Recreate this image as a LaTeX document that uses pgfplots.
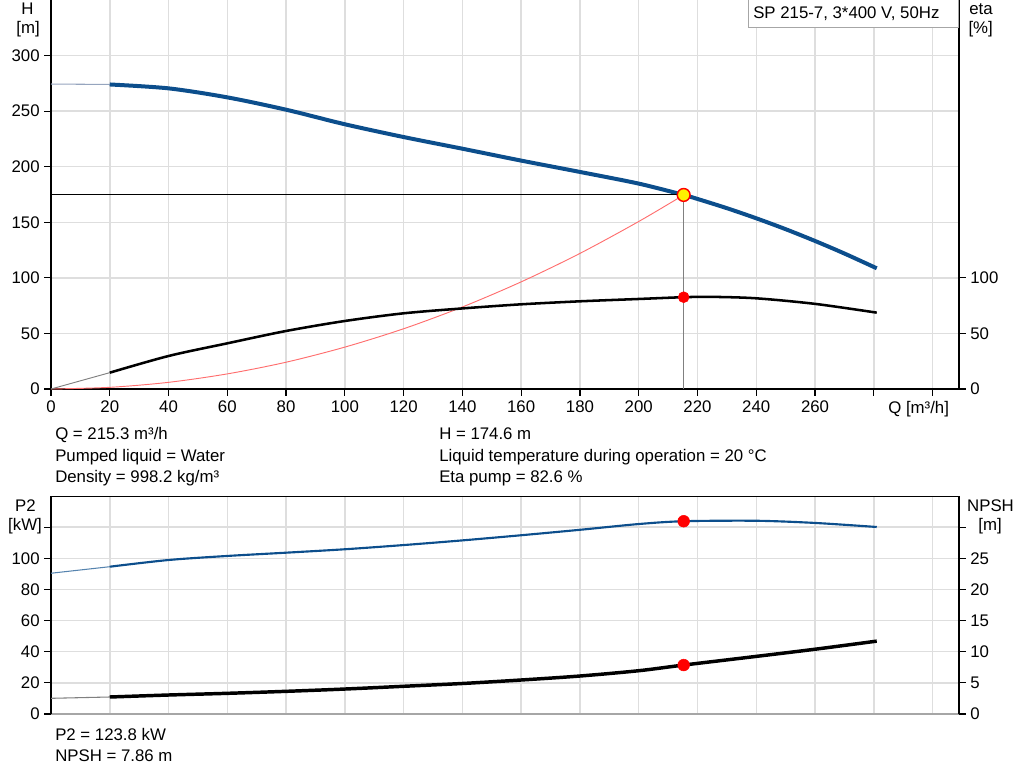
\documentclass[border=0pt]{standalone}
\usepackage{pgfplots}
\pgfplotsset{compat=1.18}
\usepackage{fontspec}
\setmainfont{Liberation Sans}
\definecolor{gblue}{RGB}{12,78,140}
\definecolor{gthin}{RGB}{150,165,190}
\definecolor{gridgray}{RGB}{222,222,222}
\definecolor{sysred}{RGB}{255,110,110}
\begin{document}
\begin{tikzpicture}
\useasboundingbox (0,0) rectangle (768pt,-585.75pt);
\pgfplotsset{
  every axis/.append style={
    scale only axis,
    font=\fontsize{12.6}{14}\selectfont,
    /pgf/number format/assume math mode=true,
    tick align=outside,
    major tick length=5pt,
    xmin=0, xmax=309,
    axis line style={black, line width=0.9pt},
    tick style={black, line width=0.9pt},
    major grid style={gridgray, line width=1.1pt},
  },
}
% ---------------- top panel: H ----------------
\begin{axis}[
  at={(38.25pt,-291.75pt)}, anchor=south west,
  width=681pt, height=291.75pt,
  ymin=0, ymax=350,
  axis x line*=bottom, axis y line*=left,
  xtick={0,20,40,60,80,100,120,140,160,180,200,220,240,260,280,300},
  xticklabels={0,20,40,60,80,100,120,140,160,180,200,220,240,260,{},{}},
  ytick={0,50,100,150,200,250,300},
  grid=major,
]
\addplot[gthin, line width=0.8pt] coordinates {(0,274.4)(20,274)};
\addplot[gblue, line width=3pt, smooth] coordinates {
  (20,274)(40,270.5)(60,262.4)(80,251.3)(100,238.2)(120,226.7)(140,216.2)
  (160,205.5)(180,195.3)(200,184.8)(215.3,174.6)(220,171.0)(230,162.7)(240,153.6)
  (250,143.8)(260,133.2)(270,121.9)(281,108.6)};
\addplot[sysred, line width=0.7pt, smooth] coordinates {
  (0,0)(20,1.5)(40,6)(60,13.6)(80,24.1)(100,37.7)(120,54.2)(140,73.8)
  (160,96.4)(180,122)(200,150.7)(215.3,174.6)};
\addplot[black, line width=0.75pt] coordinates {(0,174.6)(215.3,174.6)};
\addplot[gray, line width=0.75pt] coordinates {(215.3,174.6)(215.3,0)};
\addplot[only marks, mark=*, mark size=4.8pt,
  mark options={fill=yellow, draw=red, line width=1.1pt}] coordinates {(215.3,174.6)};
\end{axis}
% ---------------- top panel: eta ----------------
\begin{axis}[
  at={(38.25pt,-291.75pt)}, anchor=south west,
  width=681pt, height=291.75pt,
  ymin=0, ymax=350,
  axis x line=none, axis y line*=right,
  y axis line style={line width=1.8pt},
  ytick={0,50,100},
]
\addplot[gray, line width=0.7pt] coordinates {(0,0)(20,14.7)};
\addplot[black, line width=1.9pt, smooth] coordinates {
  (20,14.7)(40,29.7)(60,41.1)(80,52.2)(100,61.2)(120,68.1)(140,72.5)
  (160,76.2)(180,78.9)(200,81.0)(215.3,82.6)(225,82.9)(240,81.6)(260,76.6)(281,68.7)};
\addplot[only marks, mark=*, mark size=4.1pt, red] coordinates {(215.3,82.6)};
\end{axis}
% ---------------- bottom panel: P2 ----------------
\begin{axis}[
  at={(38.25pt,-535.5pt)}, anchor=south west,
  width=681pt, height=163.5pt,
  ymin=0, ymax=140,
  axis x line*=bottom, axis y line*=left,
  x axis line style={gray!70},
  xtick={0,20,40,60,80,100,120,140,160,180,200,220,240,260,280,300},
  xticklabels={}, xtick style={draw=none},
  ytick={0,20,40,60,80,100,120},
  yticklabels={0,20,40,60,80,100,{}},
  grid=major,
]
\draw[black, line width=0.9pt] (rel axis cs:0,1) -- (rel axis cs:1,1);
\addplot[gblue!70!white, line width=0.8pt] coordinates {(0,90.4)(20,94.6)};
\addplot[gblue, line width=1.6pt, smooth] coordinates {
  (20,94.6)(40,98.9)(60,101.5)(80,103.6)(100,105.8)(120,108.5)(140,111.5)
  (160,114.8)(180,118.3)(200,122.0)(215.3,123.8)(240,124.1)(260,122.7)(281,120.1)};
\addplot[only marks, mark=*, mark size=4.4pt, red] coordinates {(215.3,123.8)};
\end{axis}
% ---------------- bottom panel: NPSH ----------------
\begin{axis}[
  at={(38.25pt,-535.5pt)}, anchor=south west,
  width=681pt, height=163.5pt,
  ymin=0, ymax=35,
  axis x line=none, axis y line*=right,
  y axis line style={line width=1.8pt},
  ytick={0,5,10,15,20,25,30},
  yticklabels={0,5,10,15,20,25,{}},
]
\addplot[gray, line width=0.8pt] coordinates {(0,2.52)(20,2.73)};
\addplot[black, line width=2.6pt, smooth] coordinates {
  (20,2.73)(40,3.05)(60,3.32)(80,3.64)(100,4.01)(120,4.45)(140,4.9)
  (160,5.46)(180,6.1)(200,6.95)(215.3,7.86)(240,9.25)(260,10.4)(281,11.7)};
\addplot[only marks, mark=*, mark size=4.4pt, red] coordinates {(215.3,7.86)};
\end{axis}
% ---------------- texts ----------------
\begin{scope}[every node/.style={font=\fontsize{12.6}{14}\selectfont, inner sep=0pt}]
\node[anchor=base] at (20.6pt,-11.25pt) {H};
\node[anchor=base] at (21pt,-25.5pt) {[m]};
\node[anchor=base] at (735.75pt,-11.25pt) {eta};
\node[anchor=base] at (735.5pt,-25.5pt) {[\%]};
\draw[gray!70, line width=0.75pt, fill=white] (561pt,0.75pt) rectangle (718.5pt,-21pt);
\node[anchor=base west] at (564.75pt,-14.25pt) {SP 215-7, 3*400 V, 50Hz};
\node[anchor=base west] at (666pt,-309.75pt) {Q [m³/h]};
\node[anchor=base west] at (41.25pt,-329.25pt) {Q = 215.3 m³/h};
\node[anchor=base west] at (41.25pt,-345.75pt) {Pumped liquid = Water};
\node[anchor=base west] at (41.25pt,-361.5pt) {Density = 998.2 kg/m³};
\node[anchor=base west] at (329.25pt,-329.25pt) {H = 174.6 m};
\node[anchor=base west] at (329.25pt,-345.75pt) {Liquid temperature during operation = 20 °C};
\node[anchor=base west] at (329.25pt,-361.5pt) {Eta pump = 82.6 \%};
\node[anchor=base] at (19.1pt,-383.25pt) {P2};
\node[anchor=base] at (18.75pt,-397.5pt) {[kW]};
\node[anchor=base] at (742.9pt,-383.25pt) {NPSH};
\node[anchor=base] at (742.5pt,-397.5pt) {[m]};
\node[anchor=base west] at (41.25pt,-555pt) {P2 = 123.8 kW};
\node[anchor=base west] at (41.25pt,-571.25pt) {NPSH = 7.86 m};
\end{scope}
\end{tikzpicture}
\end{document}
